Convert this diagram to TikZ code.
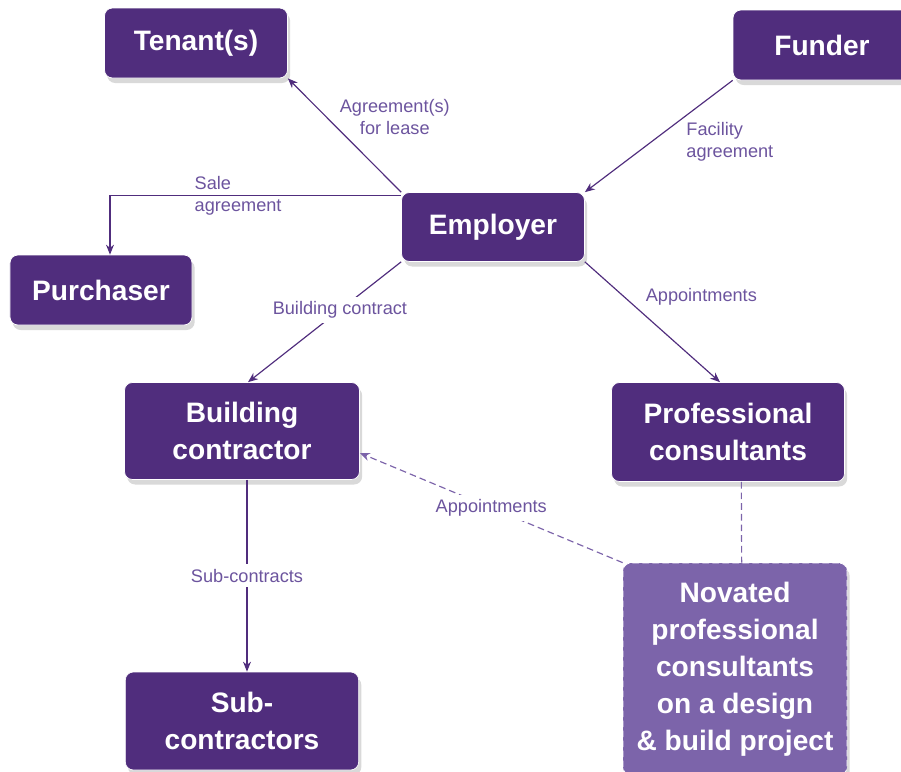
\documentclass[tikz,border=0pt]{standalone}
\usepackage{fontspec}
\setmainfont{Liberation Sans}
\usetikzlibrary{positioning, arrows.meta, shadows}
\definecolor{plum}{RGB}{80,45,125}
\definecolor{lilac}{RGB}{124,100,170}
\definecolor{lbltext}{RGB}{108,84,158}

\begin{document}
\begin{tikzpicture}[x=0.3mm, y=-0.3mm, >={Stealth[length=3mm, width=2.4mm]},
	party/.style={draw=white, line width=0.6pt, rounded corners=2.4mm, fill=plum, text=white, align=center, inner sep=2pt, font=\fontsize{24}{31.5}\selectfont\bfseries, drop shadow={shadow xshift=0.8mm, shadow yshift=-1.5mm, opacity=0.3}},
	novated/.style={party, fill=lilac, dash pattern=on 2mm off 1mm},
	link/.style={->, draw=plum, line width=1pt},
	dashlink/.style={draw=lilac, line width=1pt, dash pattern=on 2mm off 1.2mm},
	lbl/.style={text=lbltext, font=\fontsize{15.5}{19}\selectfont, align=center, inner sep=1pt},
	cut/.style={lbl, fill=white, inner sep=4pt}]
	\useasboundingbox (0, 0) rectangle (901, 771);

	\node[party, minimum width=54.9mm, minimum height=21mm] (tenant) at (196, 43) {Tenant(s)};
	\node[party, minimum width=53.4mm, minimum height=21mm] (funder) at (822, 45) {Funder};
	\node[party, minimum width=54.9mm, minimum height=20.7mm] (employer) at (493, 227) {Employer};
	\node[party, minimum width=54.6mm, minimum height=21mm] (purchaser) at (101, 290) {Purchaser};
	\node[party, minimum width=70.5mm, minimum height=29.1mm] (building) at (242, 431) {Building\\contractor};
	\node[party, minimum width=69.9mm, minimum height=29.7mm] (profcons) at (728, 432) {Professional\\consultants};
	\node[party, minimum width=70mm, minimum height=29.4mm] (subcon) at (242, 721) {Sub-\\contractors};
	\node[novated, minimum width=67.2mm, minimum height=63.6mm] (novated) at (735, 669) {Novated\\professional\\consultants\\on a design\\\& build project};

	\draw[link] (employer.north west) -- node[lbl, pos=0.66, right=3.5mm] (leaselbl) {Agreement(s)\\for lease} (tenant.south east);
	\draw[link] (funder.south west) -- node[lbl, align=left, pos=0.55, right=10mm] (facilitylbl) {Facility\\agreement} (employer.north east);
	\draw[link] ([yshift=-1mm]employer.north west) -| node[lbl, align=left, pos=0.28] (salelbl) {Sale\\agreement} ([xshift=2.7mm]purchaser.north);
	\draw[link] (employer.south west) -- node[cut, pos=0.4] (buildlbl) {Building contract} ([xshift=1.8mm]building.north);
	\draw[link] (employer.south east) -- node[lbl, pos=0.29, right=6mm] (apptlbl) {Appointments} ([xshift=-2.4mm]profcons.north);
	\draw[link] ([xshift=1.5mm]building.south) -- node[cut] (sublbl) {Sub-contracts} ([xshift=1.5mm]subcon.north);
	\draw[dashlink, ->] (novated.north west) -- node[cut] (novlbl) {Appointments} ([yshift=-6.6mm]building.east);
	\draw[dashlink] ([xshift=4mm]profcons.south) -- ([xshift=2mm]novated.north);
\end{tikzpicture}
\end{document}
